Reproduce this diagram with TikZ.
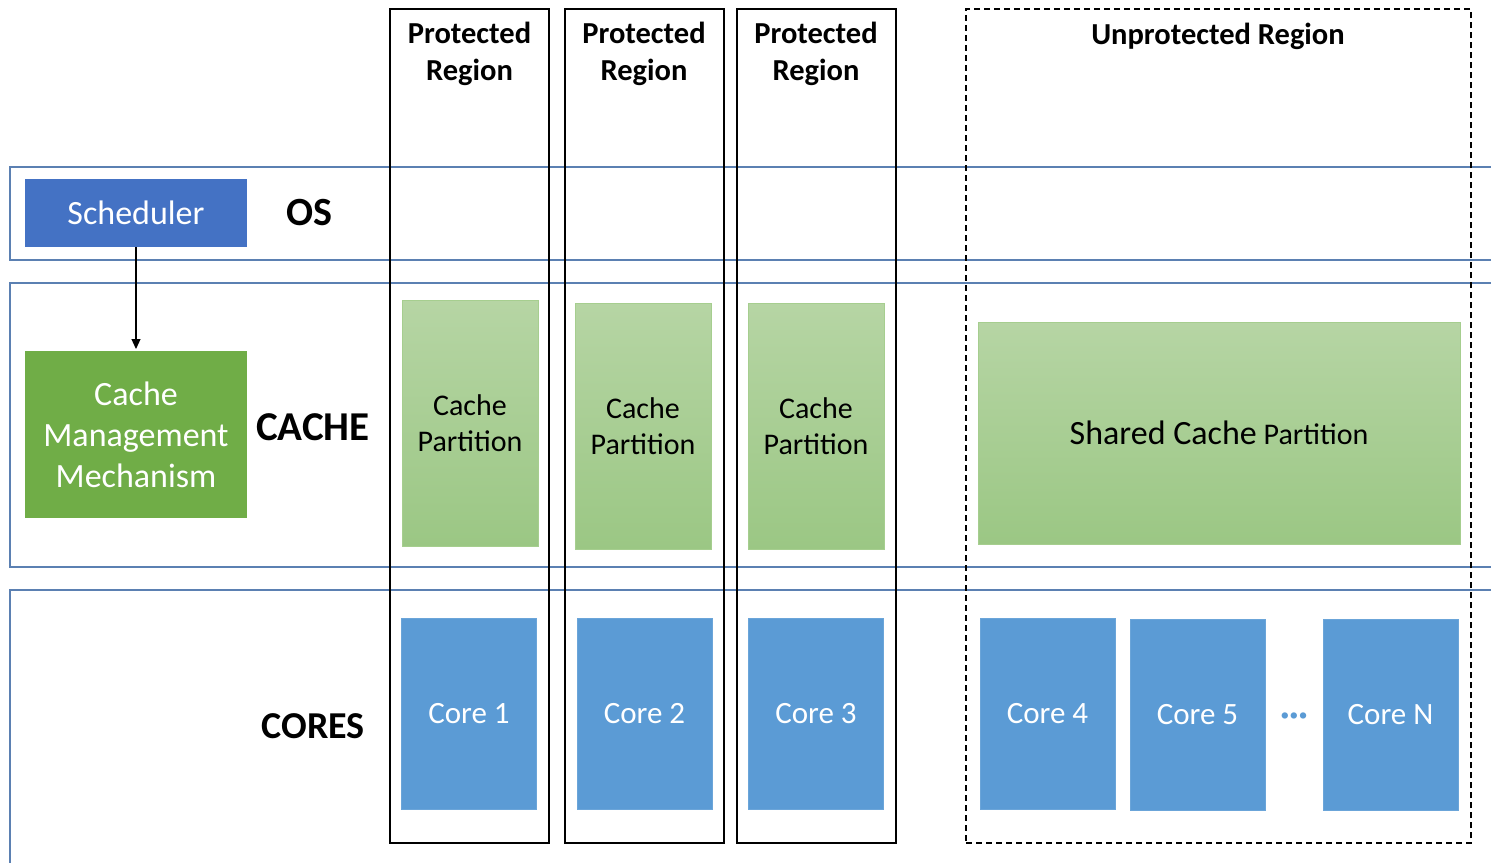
\documentclass[tikz,border=0pt]{standalone}
\usepackage{fontspec}
\setmainfont{Carlito}
\usetikzlibrary{arrows.meta}
\definecolor{bandline}{HTML}{5B80B2}
\definecolor{schedblue}{HTML}{4472C4}
\definecolor{coreblue}{HTML}{5B9BD5}
\definecolor{mgmtgreen}{HTML}{70AD47}
\definecolor{gtop}{HTML}{B6D5A4}
\definecolor{gbot}{HTML}{9BC784}
\definecolor{gborder}{HTML}{A6CE8F}
\begin{document}
\begin{tikzpicture}[x=1pt,y=-1pt,
  every node/.style={inner sep=0pt,outer sep=0pt},
  band/.style={draw=bandline,line width=1.3pt,rectangle},
  protbox/.style={draw=black,line width=2.4pt,rectangle},
  unprotbox/.style={draw=black,line width=1.4pt,dash pattern=on 6pt off 4pt,rectangle},
  regtitle/.style={font=\fontsize{30.5}{37}\selectfont\bfseries,align=center},
  layerlabel/.style={font=\fontsize{38}{46}\selectfont\bfseries},
  partbox/.style={draw=gborder,line width=1pt,top color=gtop,bottom color=gbot,
    font=\fontsize{30}{36.5}\selectfont,align=center,text=black},
  corebox/.style={fill=coreblue,draw=coreblue!90!white,line width=0.8pt,
    font=\fontsize{31}{36}\selectfont,text=white,minimum width=135pt,minimum height=191pt},
  arr/.style={-{Triangle[length=10pt,width=9pt]},line width=1.2pt}
]
\useasboundingbox (0,0) rectangle (1491,862);
\fill[white] (0,0) rectangle (1491,862);
% layer bands
\node[band,minimum width=1490pt,minimum height=93pt] (osband) at (755,213.5) {};
\node[band,minimum width=1490pt,minimum height=284pt] (cacheband) at (755,425) {};
\node[band,minimum width=1490pt,minimum height=290pt] (coresband) at (755,735) {};
% regions
\node[protbox,minimum width=159pt,minimum height=834pt] (prot1) at (469.5,426) {};
\node[protbox,minimum width=159pt,minimum height=834pt] (prot2) at (644.5,426) {};
\node[protbox,minimum width=159pt,minimum height=834pt] (prot3) at (816.5,426) {};
\node[unprotbox,minimum width=505pt,minimum height=834pt] (unprot) at (1218.5,426) {};
\node[regtitle] (pt1) at (469.5,54) {Protected\\Region};
\node[regtitle] (pt2) at (644,54) {Protected\\Region};
\node[regtitle] (pt3) at (816,54) {Protected\\Region};
\node[regtitle] (ut) at (1218,36) {Unprotected Region};
% left column
\node[fill=schedblue,minimum width=222pt,minimum height=68pt,text=white,
  font=\fontsize{34}{41}\selectfont] (sched) at (136,213) {Scheduler};
\node[fill=mgmtgreen,minimum width=222pt,minimum height=167pt,text=white,
  font=\fontsize{34}{41}\selectfont,align=center] (cmm) at (136,434.5) {Cache\\Management\\Mechanism};
\draw[arr] (sched.south) -- ([yshift=2pt]cmm.north);
\node[layerlabel,font=\fontsize{40}{46}\selectfont\bfseries] (oslbl) at (309,213) {OS};
\node[layerlabel,font=\fontsize{41}{46}\selectfont\bfseries] (cachelbl) at (313,427) {CACHE};
\node[layerlabel] (coreslbl) at (313,726) {CORES};
% cache partitions
\node[partbox,minimum width=136pt,minimum height=246pt] (cp1) at (470,423) {Cache\\Partition};
\node[partbox,minimum width=136pt,minimum height=246pt] (cp2) at (643,426) {Cache\\Partition};
\node[partbox,minimum width=136pt,minimum height=246pt] (cp3) at (816,426) {Cache\\Partition};
\node[partbox,minimum width=482pt,minimum height=222pt] (shared) at (1219,433)
  {{\fontsize{34}{36}\selectfont Shared Cache} Partition};
% cores
\node[corebox] (core1) at (469,713.5) {Core 1};
\node[corebox] (core2) at (644.5,713.5) {Core 2};
\node[corebox] (core3) at (816,713.5) {Core 3};
\node[corebox] (core4) at (1047.5,713.5) {Core 4};
\node[corebox] (core5) at (1197.5,714.5) {Core 5};
\node[corebox] (coreN) at (1390.5,714.5) {Core N};
\node[font=\fontsize{34}{34}\selectfont\bfseries,text=coreblue,anchor=base] (dots) at (1294,725) {···};
\end{tikzpicture}
\end{document}
